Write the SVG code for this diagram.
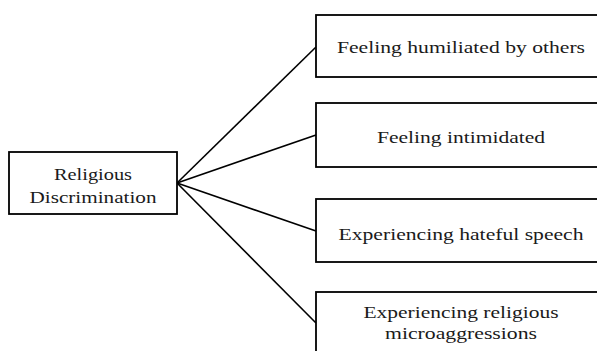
<svg xmlns="http://www.w3.org/2000/svg" width="597" height="351" viewBox="0 0 597 351">
<style>
.box{fill:#fff;stroke:#000;stroke-width:1.8}
.t{font-family:"Liberation Serif","DejaVu Serif",serif;font-size:17px;fill:#1a1a1a;text-anchor:middle}
.ln{stroke:#000;stroke-width:1.6;fill:none}
</style>
<rect width="597" height="351" fill="#fff"/>
<g id="connectors">
<line class="ln" x1="177" y1="183" x2="316" y2="47"/>
<line class="ln" x1="177" y1="183" x2="316" y2="135"/>
<line class="ln" x1="177" y1="183" x2="316" y2="231"/>
<line class="ln" x1="177" y1="183" x2="316" y2="323"/>
</g>
<g id="religious-discrimination">
<rect class="box" x="9" y="152" width="168" height="62"/>
<text class="t" x="93" y="180" textLength="78" lengthAdjust="spacingAndGlyphs">Religious</text>
<text class="t" x="93" y="203" textLength="127" lengthAdjust="spacingAndGlyphs">Discrimination</text>
</g>
<g id="humiliated">
<rect class="box" x="316" y="15" width="295" height="62"/>
<text class="t" x="461" y="53" textLength="248" lengthAdjust="spacingAndGlyphs">Feeling humiliated by others</text>
</g>
<g id="intimidated">
<rect class="box" x="316" y="103" width="295" height="64"/>
<text class="t" x="461" y="143" textLength="168" lengthAdjust="spacingAndGlyphs">Feeling intimidated</text>
</g>
<g id="hateful-speech">
<rect class="box" x="316" y="199" width="295" height="63"/>
<text class="t" x="461" y="240" textLength="245" lengthAdjust="spacingAndGlyphs">Experiencing hateful speech</text>
</g>
<g id="microaggressions">
<rect class="box" x="316" y="292" width="295" height="70"/>
<text class="t" x="461" y="318" textLength="195" lengthAdjust="spacingAndGlyphs">Experiencing religious</text>
<text class="t" x="461" y="339" textLength="152" lengthAdjust="spacingAndGlyphs">microaggressions</text>
</g>
</svg>
